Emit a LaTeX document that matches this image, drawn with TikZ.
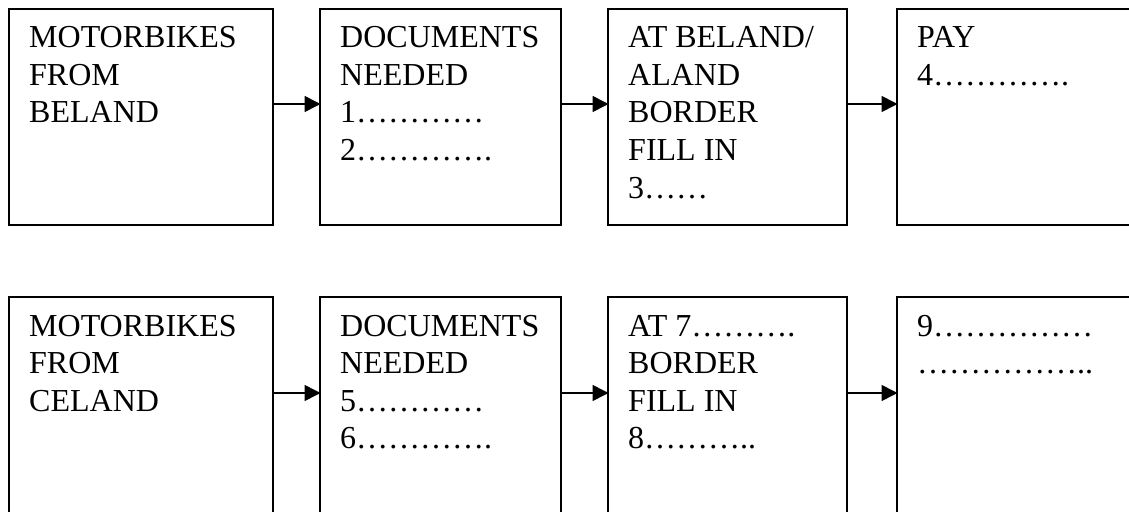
\documentclass[tikz,border=0pt]{standalone}
\usepackage{fontspec}
\setmainfont{Liberation Serif}
\usetikzlibrary{arrows.meta}
\begin{document}
\begin{tikzpicture}[x=1pt,y=-1pt,
  box/.style={draw, line width=1.6pt, anchor=north west, inner sep=0pt, outer sep=0pt,
              minimum height=216pt},
  lbl/.style={anchor=base west, inner sep=0pt, font=\fontsize{32}{37.5}\selectfont},
  arr/.style={line width=1.6pt, -{Triangle[length=16pt,width=16pt]}, shorten >=-0.5pt}
]
\useasboundingbox (0,0) rectangle (1129,511);
\clip (0,0) rectangle (1129,511);
% row 1
\node[box, minimum width=264pt] (a1) at (9,9) {};
\node[box, minimum width=241pt] (a2) at (320,9) {};
\node[box, minimum width=239pt] (a3) at (608,9) {};
\node[box, minimum width=300pt] (a4) at (897,9) {};
% row 2
\node[box, minimum width=264pt, minimum height=260pt] (b1) at (9,297) {};
\node[box, minimum width=241pt, minimum height=260pt] (b2) at (320,297) {};
\node[box, minimum width=239pt, minimum height=260pt] (b3) at (608,297) {};
\node[box, minimum width=300pt, minimum height=260pt] (b4) at (897,297) {};
% texts row 1
\node[lbl] (ta1) at ([xshift=20pt,yshift=-39pt]a1.north west) {\begin{tabular}[t]{@{}l@{}}MOTORBIKES\\FROM\\BELAND\end{tabular}};
\node[lbl] (ta2) at ([xshift=20pt,yshift=-39pt]a2.north west) {\begin{tabular}[t]{@{}l@{}}DOCUMENTS\\NEEDED\\1…………\\2………….\end{tabular}};
\node[lbl] (ta3) at ([xshift=20pt,yshift=-39pt]a3.north west) {\begin{tabular}[t]{@{}l@{}}AT BELAND/\\ALAND\\BORDER\\FILL IN\\3……\end{tabular}};
\node[lbl] (ta4) at ([xshift=20pt,yshift=-39pt]a4.north west) {\begin{tabular}[t]{@{}l@{}}PAY\\4………….\end{tabular}};
% texts row 2
\node[lbl] (tb1) at ([xshift=20pt,yshift=-39pt]b1.north west) {\begin{tabular}[t]{@{}l@{}}MOTORBIKES\\FROM\\CELAND\end{tabular}};
\node[lbl] (tb2) at ([xshift=20pt,yshift=-39pt]b2.north west) {\begin{tabular}[t]{@{}l@{}}DOCUMENTS\\NEEDED\\5…………\\6………….\end{tabular}};
\node[lbl] (tb3) at ([xshift=20pt,yshift=-39pt]b3.north west) {\begin{tabular}[t]{@{}l@{}}AT 7……….\\BORDER\\FILL IN\\8………..\end{tabular}};
\node[lbl] (tb4) at ([xshift=20pt,yshift=-39pt]b4.north west) {\begin{tabular}[t]{@{}l@{}}9……………\\……………..\end{tabular}};
% arrows
\draw[arr] ([yshift=-95pt]a1.north east) -- ([yshift=-95pt]a2.north west);
\draw[arr] ([yshift=-95pt]a2.north east) -- ([yshift=-95pt]a3.north west);
\draw[arr] ([yshift=-95pt]a3.north east) -- ([yshift=-95pt]a4.north west);
\draw[arr] ([yshift=-96pt]b1.north east) -- ([yshift=-96pt]b2.north west);
\draw[arr] ([yshift=-96pt]b2.north east) -- ([yshift=-96pt]b3.north west);
\draw[arr] ([yshift=-96pt]b3.north east) -- ([yshift=-96pt]b4.north west);
\end{tikzpicture}
\end{document}
